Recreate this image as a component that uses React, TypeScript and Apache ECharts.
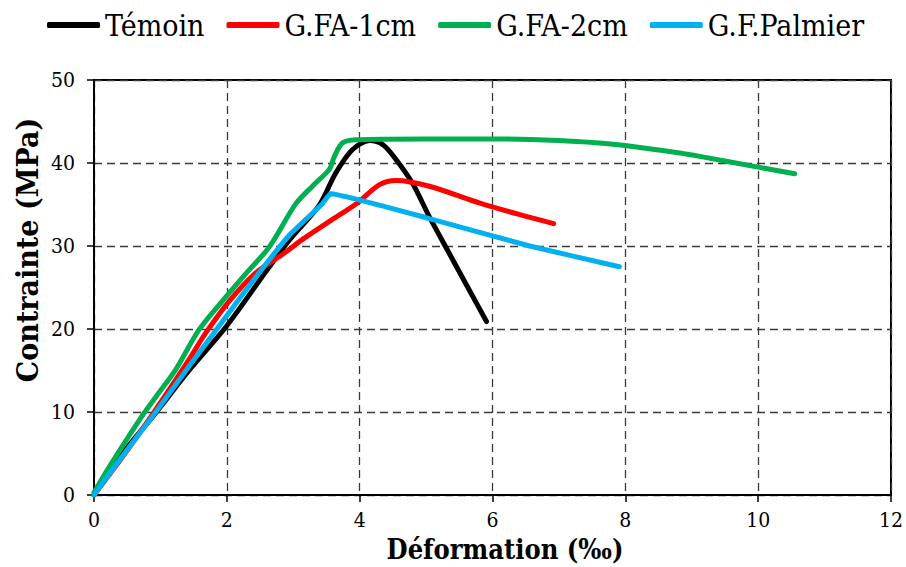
import React, { useEffect, useRef } from "react";
import * as echarts from "echarts";

const seriesNames = ["Témoin", "G.FA-1cm", "G.FA-2cm", "G.F.Palmier"];
const seriesColors = ["#000000", "#FF0000", "#00B050", "#00B0F0"];

const temoin: [number, number][] = [
  [0, 0], [0.43, 5.0], [0.93, 9.9], [1.43, 15.0], [2.0, 20.4], [2.64, 27.5],
  [2.94, 30.7], [3.39, 34.9], [3.64, 38.8], [3.89, 41.6], [4.15, 42.7],
  [4.35, 42.2], [4.55, 40.4], [4.8, 37.5], [5.05, 33.5], [5.35, 29.1],
  [5.65, 24.7], [5.91, 20.9],
];

const gfa1: [number, number][] = [
  [0, 0], [0.43, 4.6], [0.87, 9.6], [1.2, 13.5], [1.43, 16.3], [1.68, 19.5],
  [2.04, 23.4], [2.44, 26.8], [2.84, 29.0], [3.14, 30.8], [3.55, 33.0],
  [3.95, 35.1], [4.3, 37.4], [4.55, 37.9], [5.05, 37.2], [5.8, 35.2],
  [6.4, 33.8], [6.92, 32.7],
];

const gfa2: [number, number][] = [
  [0, 0.3], [0.23, 3.4], [0.68, 9.0], [0.93, 11.8], [1.23, 15.1], [1.58, 19.9],
  [1.99, 23.9], [2.29, 26.7], [2.64, 29.9], [3.04, 35.1], [3.3, 37.3],
  [3.54, 39.2], [3.62, 40.8], [3.74, 42.4], [3.94, 42.8], [5.0, 42.9],
  [6.0, 42.9], [7.0, 42.7], [7.61, 42.4], [8.0, 42.1], [8.82, 41.2],
  [9.12, 40.8], [10.0, 39.5], [10.55, 38.7],
];

const palmier: [number, number][] = [
  [0, 0], [0.43, 4.7], [0.93, 10.0], [1.43, 15.5], [1.99, 21.5], [2.44, 26.3],
  [2.94, 31.3], [3.44, 35.1], [3.56, 36.3], [5.05, 33.3], [6.56, 30.0],
  [7.91, 27.5],
];

const seriesData = [temoin, gfa1, gfa2, palmier];

const xTitle = "Déformation (‰)";
const yTitle = "Contrainte (MPa)";

export default function App() {
  const ref = useRef<HTMLDivElement>(null);
  useEffect(() => {
    if (!ref.current) return;
    const chart = echarts.init(ref.current, undefined, { renderer: "svg" });
    const font = "'DejaVu Serif Condensed', 'DejaVu Serif'";
    chart.setOption({
      animation: false,
      backgroundColor: "#ffffff",
      legend: {
        left: 42,
        top: 5,
        icon: "roundRect",
        itemWidth: 53,
        itemHeight: 6,
        itemGap: 22,
        textStyle: { fontFamily: font, fontSize: 30, color: "#000" },
        data: seriesNames,
      },
      grid: {
        left: 94,
        top: 80,
        right: 15,
        bottom: 72,
        show: true,
        borderColor: "#000",
        borderWidth: 2,
        backgroundColor: "transparent",
      },
      xAxis: {
        type: "value",
        min: 0,
        max: 12,
        interval: 2,
        axisLine: { show: true, lineStyle: { color: "#000", width: 2 } },
        axisTick: { show: true, length: 7, lineStyle: { color: "#000", width: 1.5 } },
        axisLabel: { fontFamily: font, fontSize: 21, color: "#000", margin: 14 },
        splitLine: { show: true, lineStyle: { color: "#3a3a3a", width: 1.3, type: [8, 5] } },
      },
      yAxis: {
        type: "value",
        min: 0,
        max: 50,
        interval: 10,
        axisLine: { show: true, lineStyle: { color: "#000", width: 2 } },
        axisTick: { show: true, length: 7, lineStyle: { color: "#000", width: 1.5 } },
        axisLabel: { fontFamily: font, fontSize: 21, color: "#000", margin: 19 },
        splitLine: { show: true, lineStyle: { color: "#3a3a3a", width: 1.3, type: [8, 5] } },
      },
      graphic: [
        {
          type: "text",
          x: 505,
          y: 549,
          style: {
            text: xTitle,
            fontFamily: font,
            fontSize: 27,
            fontWeight: "bold",
            fill: "#000",
            textAlign: "center",
            textVerticalAlign: "middle",
          },
        },
        {
          type: "text",
          x: 27,
          y: 250,
          rotation: Math.PI / 2,
          style: {
            text: yTitle,
            fontFamily: font,
            fontSize: 30,
            fontWeight: "bold",
            fill: "#000",
            textAlign: "center",
            textVerticalAlign: "middle",
          },
        },
      ],
      series: seriesNames.map((name, i) => ({
        name,
        type: "line",
        data: seriesData[i],
        showSymbol: false,
        symbol: "none",
        smooth: i === 3 ? 0.1 : 0.3,
        lineStyle: { color: seriesColors[i], width: 5, cap: "round", join: "round" },
        itemStyle: { color: seriesColors[i] },
        z: 3,
      })),
    });
    return () => chart.dispose();
  }, []);
  return (
    <div
      ref={ref}
      style={{ position: "fixed", left: 0, top: 0, width: 906, height: 567 }}
    />
  );
}
